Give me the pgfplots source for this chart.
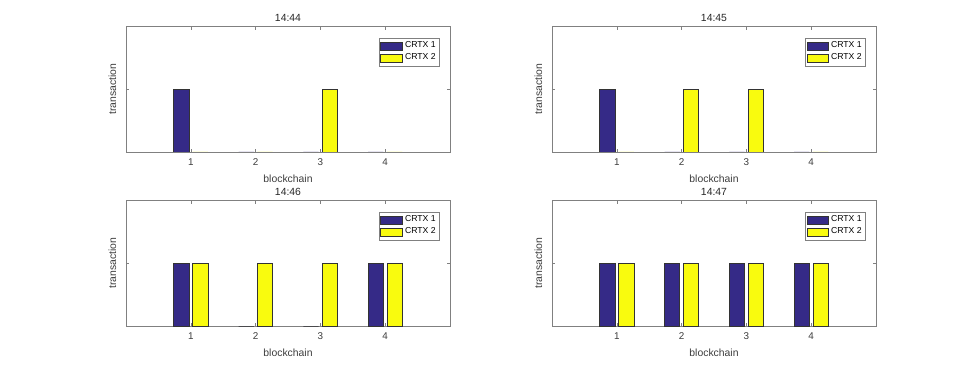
\documentclass[border=0pt]{standalone}
\usepackage{fontspec}
\setmainfont{Liberation Sans}
\usepackage{pgfplots}
\pgfplotsset{compat=1.18}
\definecolor{crtxa}{RGB}{53,42,135}
\definecolor{crtxb}{RGB}{249,251,14}
\definecolor{axgray}{RGB}{128,128,128}
\definecolor{txt}{RGB}{60,60,60}

\pgfplotsset{
  panel/.style={
    scale only axis, width=243pt, height=94pt, anchor=south west,
    xmin=0, xmax=5, ymin=0, ymax=2,
    xtick={1,2,3,4}, ytick={0,1,2}, yticklabels={},
    tick align=inside, major tick length=2.5pt,
    axis line style={axgray, line width=0.4pt},
    every tick/.style={axgray, line width=0.4pt},
    ticklabel style={font=\fontsize{7.4}{8}\selectfont, text=txt},
    xticklabel style={yshift=-1.5pt},
    /pgf/number format/assume math mode=true,
    xlabel={blockchain}, ylabel={transaction},
    ylabel shift=-3pt,
    label style={font=\fontsize{7.8}{9}\selectfont, text=txt},
    title style={font=\fontsize{7.8}{9}\selectfont, text=black!85, yshift=-6pt},
    legend style={at={(0.969,0.913)}, anchor=north east, draw=axgray,
      line width=0.4pt, font=\fontsize{6.5}{7}\selectfont,
      inner sep=1pt, row sep=-1pt, cells={anchor=west}},
  },
  s1/.style={ybar, bar width=0.235, bar shift=-0.146, fill=crtxa,
    draw=black!80, line width=0.4pt,
    legend image code/.code={\draw[fill=crtxa, draw=black!80] (0pt,-3pt) rectangle (16pt,3pt);}},
  s2/.style={ybar, bar width=0.235, bar shift=0.146, fill=crtxb,
    draw=black!80, line width=0.4pt,
    legend image code/.code={\draw[fill=crtxb, draw=black!80] (0pt,-3pt) rectangle (16pt,3pt);}},
}

\begin{document}
\begin{tikzpicture}[x=0.75pt,y=0.75pt]
\path[use as bounding box] (0,0) rectangle (969,368);

% 14:44
\begin{axis}[panel, at={(94.5pt,162pt)}, title={14:44}]
\addplot[s1] coordinates {(1,1) (2,0) (3,0) (4,0)};
\addplot[s2] coordinates {(1,0) (2,0) (3,1) (4,0)};
\legend{CRTX 1, CRTX 2}
\end{axis}

% 14:45
\begin{axis}[panel, at={(414pt,162pt)}, title={14:45}]
\addplot[s1] coordinates {(1,1) (2,0) (3,0) (4,0)};
\addplot[s2] coordinates {(1,0) (2,1) (3,1) (4,0)};
\legend{CRTX 1, CRTX 2}
\end{axis}

% 14:46
\begin{axis}[panel, at={(94.5pt,31.5pt)}, title={14:46}]
\addplot[s1] coordinates {(1,1) (2,0) (3,0) (4,1)};
\addplot[s2] coordinates {(1,1) (2,1) (3,1) (4,1)};
\legend{CRTX 1, CRTX 2}
\end{axis}

% 14:47
\begin{axis}[panel, at={(414pt,31.5pt)}, title={14:47}]
\addplot[s1] coordinates {(1,1) (2,1) (3,1) (4,1)};
\addplot[s2] coordinates {(1,1) (2,1) (3,1) (4,1)};
\legend{CRTX 1, CRTX 2}
\end{axis}
\end{tikzpicture}
\end{document}
